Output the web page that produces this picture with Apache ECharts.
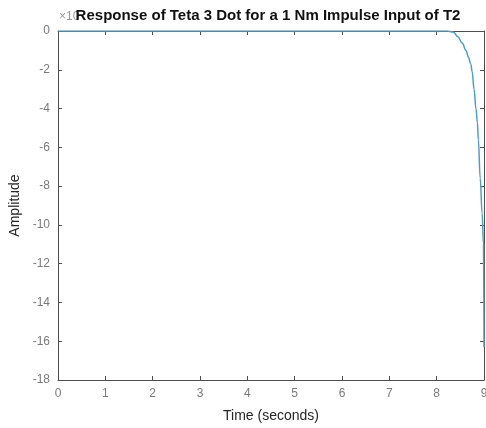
<!DOCTYPE html>
<html>
<head>
<meta charset="utf-8">
<script src="https://cdn.jsdelivr.net/npm/echarts@6/dist/echarts.min.js"></script>
<style>
  html, body { margin: 0; padding: 0; background: #fff; }
  #main { width: 486px; height: 428px; }
</style>
</head>
<body>
<div id="main"></div>
<script>
// impulse response
var time = [0, 1, 2, 3, 4, 5, 6, 7, 8, 8.22, 8.35, 8.45, 8.54, 8.62, 8.67, 8.72, 8.75, 8.79, 8.83, 8.86, 8.88, 8.92, 8.96, 8.99, 9.0];
var amplitude = [0, 0, 0, 0, 0, 0, 0, 0, 0, 0, -0.05, -0.3, -0.62, -1.0, -1.34, -1.7, -2.1, -3.0, -4.0, -4.7, -5.6, -7.6, -9.4, -11.0, -16.3];
var xTicks = [0, 9, 1];
var yTicks = [-18, 0, 2];

var axisColor = "#4d4d4d";
var labelColor = "#7a7a7a";
var font = "Liberation Sans, Arial, sans-serif";

var chart = echarts.init(document.getElementById("main"));

function xAx(pos, showLabel) {
  return {
    type: "value",
    position: pos,
    min: xTicks[0],
    max: xTicks[1],
    interval: xTicks[2],
    splitLine: { show: false },
    axisLine: { show: true, onZero: false, lineStyle: { color: axisColor, width: 1 } },
    axisTick: { show: true, inside: true, length: 4, lineStyle: { color: axisColor } },
    axisLabel: { show: showLabel, color: labelColor, fontSize: 12, fontFamily: font, margin: 8 }
  };
}

function yAx(pos, showLabel) {
  return {
    type: "value",
    position: pos,
    min: yTicks[0],
    max: yTicks[1],
    interval: yTicks[2],
    splitLine: { show: false },
    axisLine: { show: true, onZero: false, lineStyle: { color: axisColor, width: 1 } },
    axisTick: { show: true, inside: true, length: 4, lineStyle: { color: axisColor } },
    axisLabel: { show: showLabel, color: labelColor, fontSize: 12, fontFamily: font, margin: 8 }
  };
}

var xBottom = xAx("bottom", true);
xBottom.name = "Time (seconds)";
xBottom.nameLocation = "middle";
xBottom.nameGap = 29;
xBottom.nameTextStyle = { color: "#262626", fontSize: 14, fontFamily: font };

var yLeft = yAx("left", true);
yLeft.name = "Amplitude";
yLeft.nameLocation = "middle";
yLeft.nameGap = 30;
yLeft.nameTextStyle = { color: "#262626", fontSize: 14, fontFamily: font };

chart.setOption({
  backgroundColor: "#fff",
  animation: false,
  title: {
    text: "Response of Teta 3 Dot for a 1 Nm Impulse Input of T2",
    left: 263,
    textAlign: "center",
    top: 3,
    textStyle: { color: "#111", fontSize: 15, fontWeight: "bold", fontFamily: font }
  },
  graphic: [
    {
      type: "text",
      left: 59,
      top: 11,
      z: -1,
      style: { text: "×10", fill: "#9a9a9a", fontSize: 12, fontFamily: font }
    }
  ],
  grid: { left: 58, right: 2, top: 31, bottom: 48, containLabel: false, outerBoundsMode: "none" },
  xAxis: [xBottom, xAx("top", false)],
  yAxis: [yLeft, yAx("right", false)],
  series: [
    {
      type: "line",
      xAxisIndex: 0,
      yAxisIndex: 0,
      data: time.map(function (t, i) { return [t, amplitude[i]]; }),
      showSymbol: false,
      smooth: 0.4,
      smoothMonotone: "x",
      lineStyle: { color: "#4a9fc8", width: 1.5 },
      clip: true
    }
  ]
});
</script>
</body>
</html>
